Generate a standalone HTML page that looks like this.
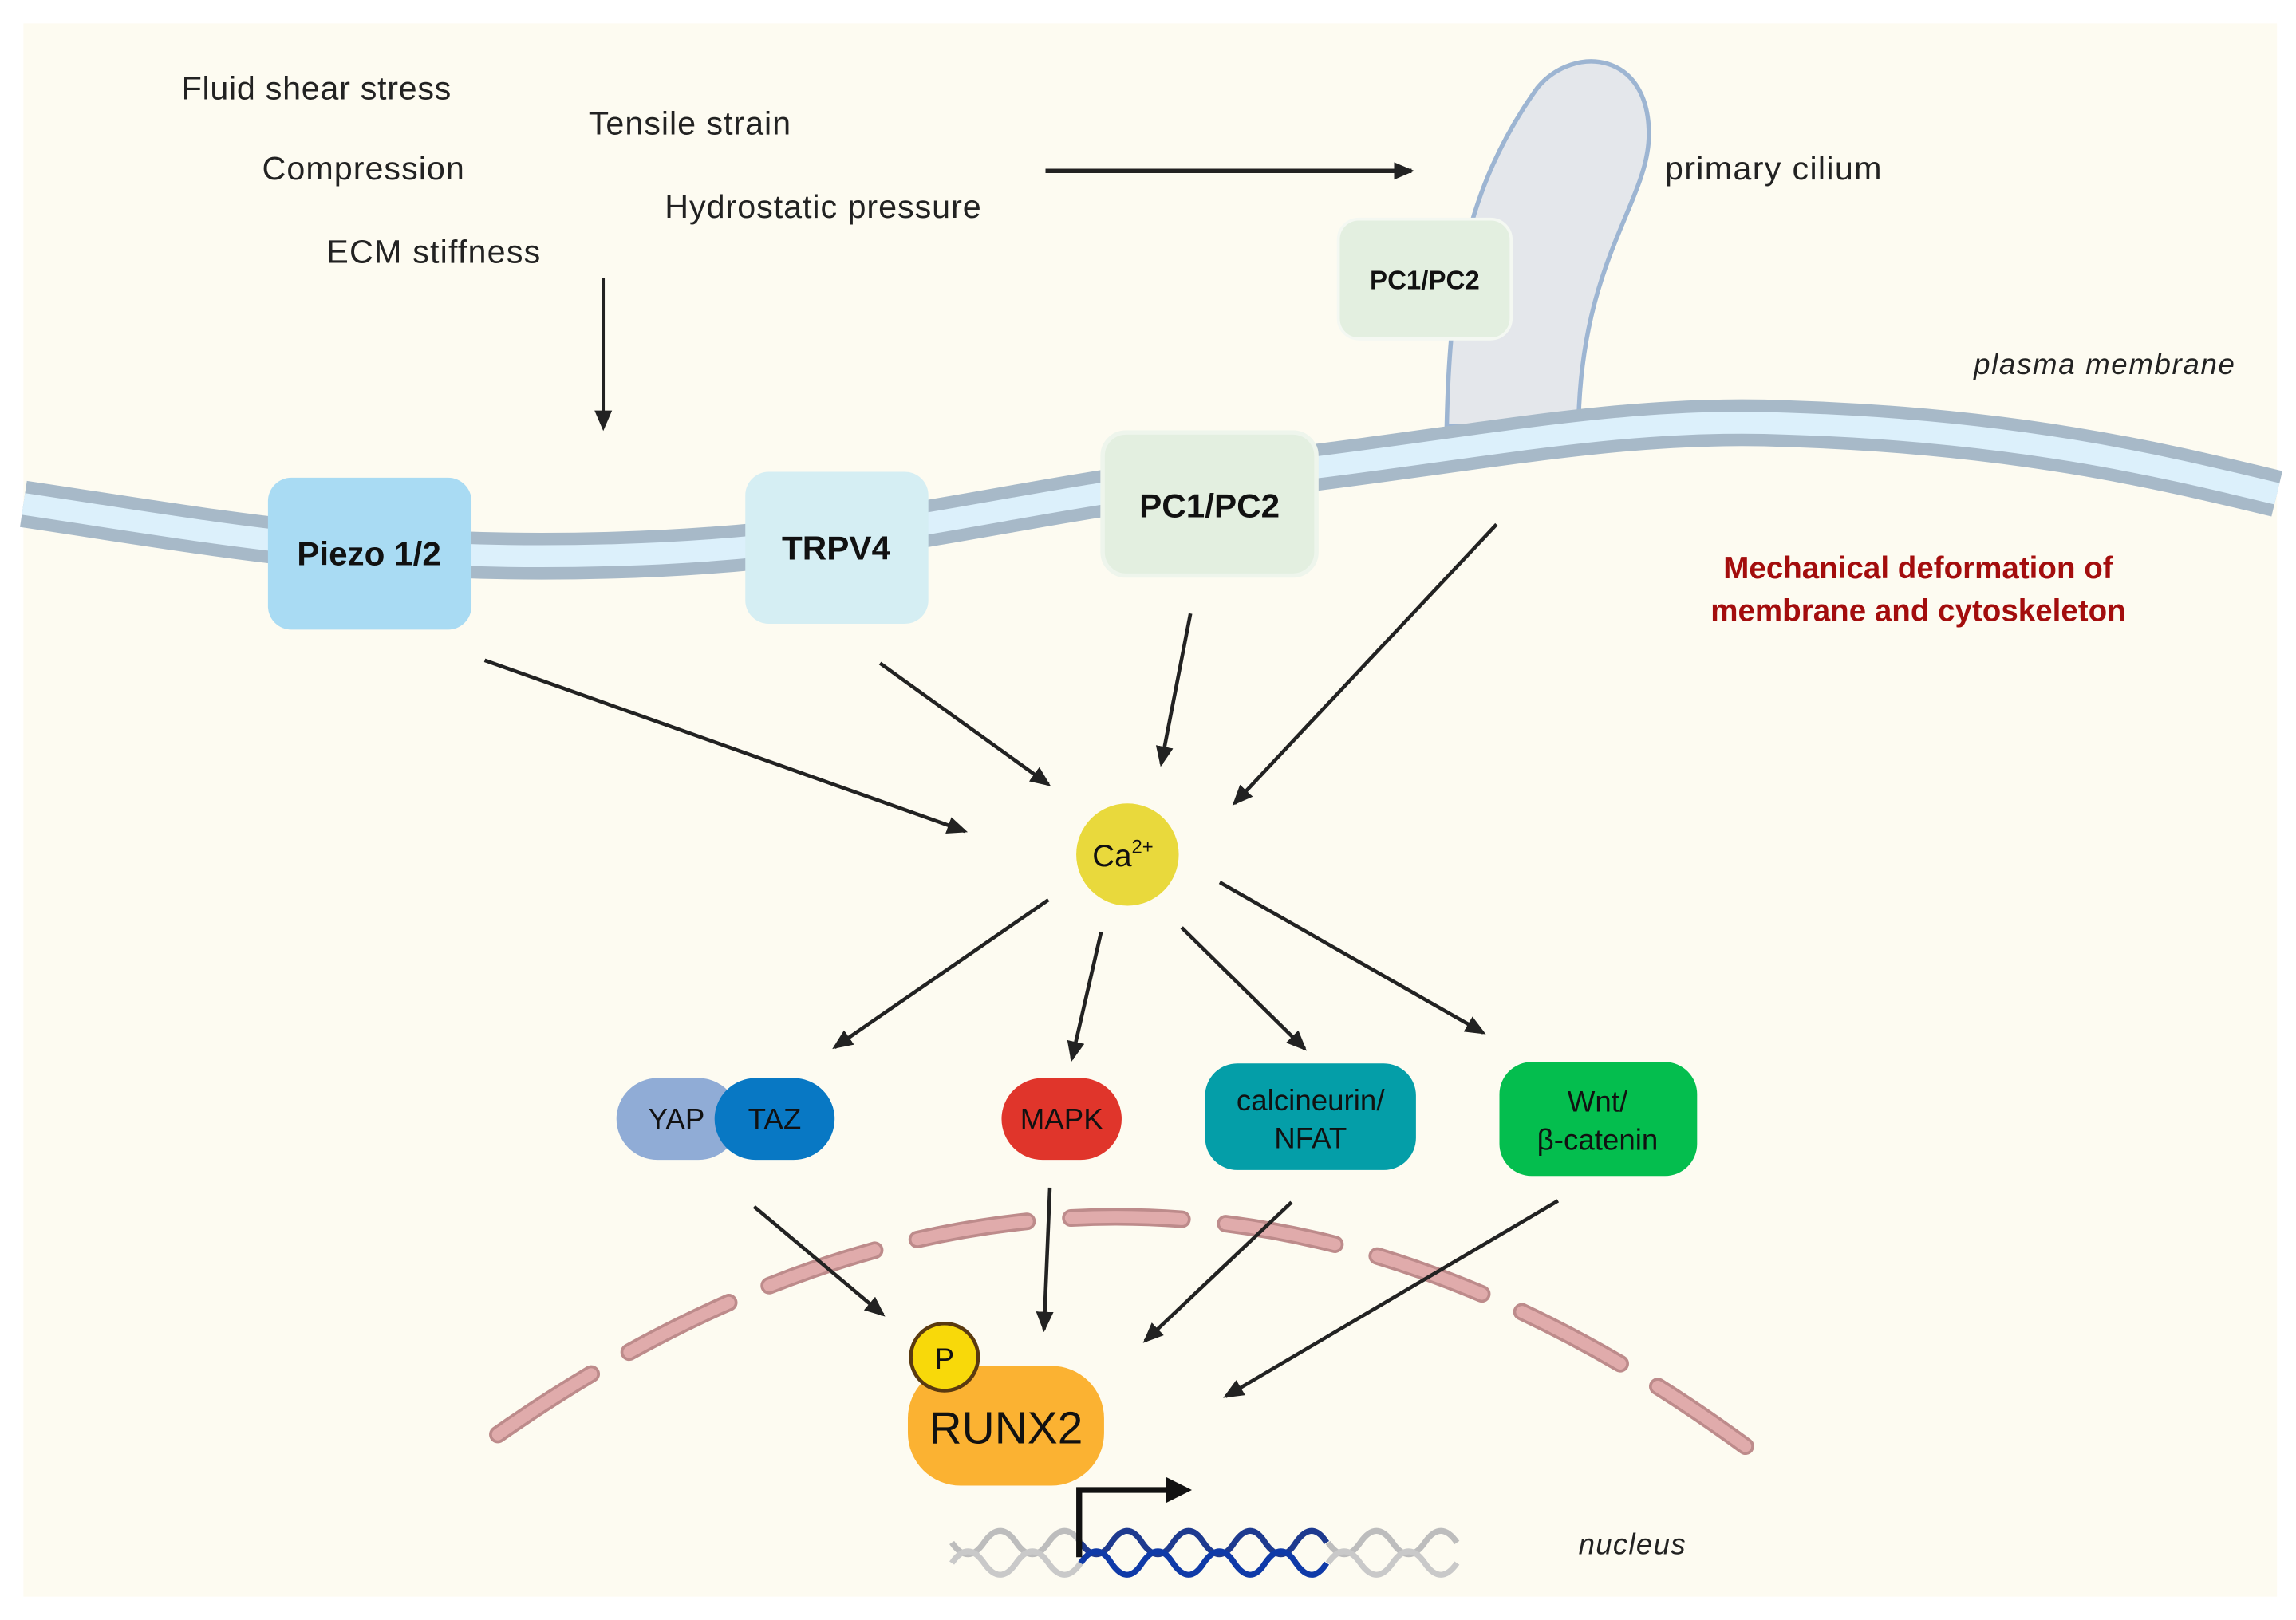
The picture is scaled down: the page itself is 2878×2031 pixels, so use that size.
<!DOCTYPE html>
<html><head><meta charset="utf-8"><style>
html,body{margin:0;padding:0;background:#fff;}
svg{display:block;}
text{font-family:"Liberation Sans",sans-serif;}
</style></head><body>
<svg width="2878" height="2031" viewBox="0 0 1568 1109" preserveAspectRatio="none" xmlns="http://www.w3.org/2000/svg">
<defs>
<marker id="ah" markerWidth="14" markerHeight="14" refX="12" refY="7" orient="auto" markerUnits="userSpaceOnUse" viewBox="0 0 14 14">
<path d="M0,1 L14,7 L0,13 z" fill="#222"/></marker>
<marker id="ahb" markerWidth="18" markerHeight="18" refX="14" refY="9" orient="auto" markerUnits="userSpaceOnUse" viewBox="0 0 18 18">
<path d="M0,0 L18,9 L0,18 z" fill="#111"/></marker>
</defs>
<rect x="0" y="0" width="1568" height="1109" fill="#fff"/>
<rect x="16" y="16" width="1539" height="1077" fill="#fdfbf1"/>

<!-- cilium -->
<path d="M988,292 C990,200 1000,130 1050,60 C1075,30 1128,35 1126,95 C1124,140 1080,180 1078,290 Z" fill="#e4e7eb" stroke="#9db5d2" stroke-width="3"/>

<!-- membrane -->
<path d="M16,345 C150,365 250,385 420,380 C600,375 700,340 830,328 C1000,310 1100,285 1220,290 C1380,295 1480,320 1555,338" fill="none" stroke="#a7b9c8" stroke-width="32"/>
<path d="M16,345 C150,365 250,385 420,380 C600,375 700,340 830,328 C1000,310 1100,285 1220,290 C1380,295 1480,320 1555,338" fill="none" stroke="#dcf0fb" stroke-width="15"/>

<!-- nucleus dashed -->
<path d="M340,982 Q770,680 1192,990" fill="none" stroke="#bd8b8b" stroke-width="12" stroke-dasharray="76 30" stroke-linecap="round"/>
<path d="M340,982 Q770,680 1192,990" fill="none" stroke="#e0abab" stroke-width="8" stroke-dasharray="76 30" stroke-linecap="round"/>

<!-- texts top -->
<g font-size="22.5" fill="#222">
<text x="124" y="68" textLength="184">Fluid shear stress</text>
<text x="402" y="92" textLength="138">Tensile strain</text>
<text x="179" y="123" textLength="138">Compression</text>
<text x="454" y="149" textLength="216">Hydrostatic pressure</text>
<text x="223" y="180" textLength="146">ECM stiffness</text>
<text x="1137" y="123" textLength="148">primary cilium</text>
</g>
<text x="1348" y="256" font-size="20" font-style="italic" fill="#222" textLength="178">plasma membrane</text>
<text x="1078" y="1064" font-size="20" font-style="italic" fill="#222" textLength="73">nucleus</text>
<g font-size="21" font-weight="bold" fill="#a30d0d" text-anchor="middle">
<text x="1310" y="396">Mechanical deformation of</text>
<text x="1310" y="425">membrane and cytoskeleton</text>
</g>

<!-- arrows top -->
<line x1="714" y1="117" x2="964" y2="117" stroke="#222" stroke-width="3" marker-end="url(#ah)"/>
<line x1="412" y1="190" x2="412" y2="293" stroke="#222" stroke-width="2" marker-end="url(#ah)"/>

<!-- receptors -->
<rect x="914" y="150" width="118" height="82" rx="14" fill="#e3efe0" stroke="#f4f8f2" stroke-width="2"/>
<text x="973" y="198" font-size="18" font-weight="bold" text-anchor="middle" fill="#111">PC1/PC2</text>
<rect x="183" y="327" width="139" height="104" rx="16" fill="#a9dbf3"/>
<text x="252" y="387" font-size="23" font-weight="bold" text-anchor="middle" fill="#111">Piezo 1/2</text>
<rect x="509" y="323" width="125" height="104" rx="16" fill="#d5eef3"/>
<text x="571" y="383" font-size="23" font-weight="bold" text-anchor="middle" fill="#111">TRPV4</text>
<rect x="753" y="296" width="146" height="98" rx="16" fill="#e3efe0" stroke="#eef5ec" stroke-width="3"/>
<text x="826" y="354" font-size="23" font-weight="bold" text-anchor="middle" fill="#111">PC1/PC2</text>

<!-- arrows -->
<g stroke="#222" stroke-width="2.5" marker-end="url(#ah)">
<line x1="331" y1="452" x2="659" y2="569"/>
<line x1="601" y1="454" x2="716" y2="537"/>
<line x1="813" y1="420" x2="793" y2="523"/>
<line x1="1022" y1="359" x2="843" y2="550"/>
<line x1="716" y1="616" x2="570" y2="717"/>
<line x1="752" y1="638" x2="732" y2="725"/>
<line x1="807" y1="635" x2="891" y2="718"/>
<line x1="833" y1="604" x2="1013" y2="707"/>
<line x1="515" y1="826" x2="603" y2="900"/>
<line x1="717" y1="813" x2="713" y2="910"/>
<line x1="882" y1="823" x2="782" y2="918"/>
<line x1="1064" y1="822" x2="837" y2="956"/>
</g>

<!-- Ca -->
<circle cx="770" cy="585" r="35" fill="#e9d93c"/>
<text x="746" y="593" font-size="21" fill="#111">Ca<tspan font-size="13" dy="-9">2+</tspan></text>

<!-- effectors -->
<rect x="421" y="738" width="84" height="56" rx="28" fill="#90acd6"/>
<rect x="488" y="738" width="82" height="56" rx="28" fill="#0878c4"/>
<text x="462" y="773" font-size="20" text-anchor="middle" fill="#111">YAP</text>
<text x="529" y="773" font-size="20" text-anchor="middle" fill="#111">TAZ</text>
<rect x="684" y="738" width="82" height="56" rx="28" fill="#e0352b"/>
<text x="725" y="773" font-size="20" text-anchor="middle" fill="#111">MAPK</text>
<rect x="823" y="728" width="144" height="73" rx="22" fill="#049ea8"/>
<text x="895" y="760" font-size="20" text-anchor="middle" fill="#111">calcineurin/</text>
<text x="895" y="786" font-size="20" text-anchor="middle" fill="#111">NFAT</text>
<rect x="1024" y="727" width="135" height="78" rx="22" fill="#04be4e"/>
<text x="1091" y="761" font-size="20" text-anchor="middle" fill="#111">Wnt/</text>
<text x="1091" y="787" font-size="20" text-anchor="middle" fill="#111">β-catenin</text>

<!-- RUNX2 -->
<rect x="620" y="935" width="134" height="82" rx="36" fill="#fbb232"/>
<text x="687" y="988" font-size="31" text-anchor="middle" fill="#111">RUNX2</text>
<circle cx="645" cy="929" r="23" fill="#f8d90a" stroke="#5a3a10" stroke-width="2.5"/>
<text x="645" y="937" font-size="20" text-anchor="middle" fill="#111">P</text>

<!-- DNA -->
<g fill="none" stroke-width="4">
<path d="M650,1056 q11,16 22,0 q11,-16 22,0 q11,16 22,0 q11,-16 22,0" stroke="#bdbdbd"/>
<path d="M650,1070 q11,-16 22,0 q11,16 22,0 q11,-16 22,0 q11,16 22,0" stroke="#c9c9c9"/>
<path d="M907,1056 q11,16 22,0 q11,-16 22,0 q11,16 22,0 q11,-16 22,0" stroke="#bdbdbd"/>
<path d="M907,1070 q11,-16 22,0 q11,16 22,0 q11,-16 22,0 q11,16 22,0" stroke="#c9c9c9"/>
<path d="M738,1056 q11,16 21,0 q11,-16 21,0 q11,16 21,0 q11,-16 21,0 q11,16 21,0 q11,-16 21,0 q11,16 21,0 q11,-16 21,0" stroke="#1e3a8f"/>
<path d="M738,1070 q11,-16 21,0 q11,16 21,0 q11,-16 21,0 q11,16 21,0 q11,-16 21,0 q11,16 21,0 q11,-16 21,0 q11,16 21,0" stroke="#0f3aa8"/>
</g>
<path d="M737,1066 L737,1020 L810,1020" fill="none" stroke="#111" stroke-width="4" marker-end="url(#ahb)"/>
</svg>
</body></html>
